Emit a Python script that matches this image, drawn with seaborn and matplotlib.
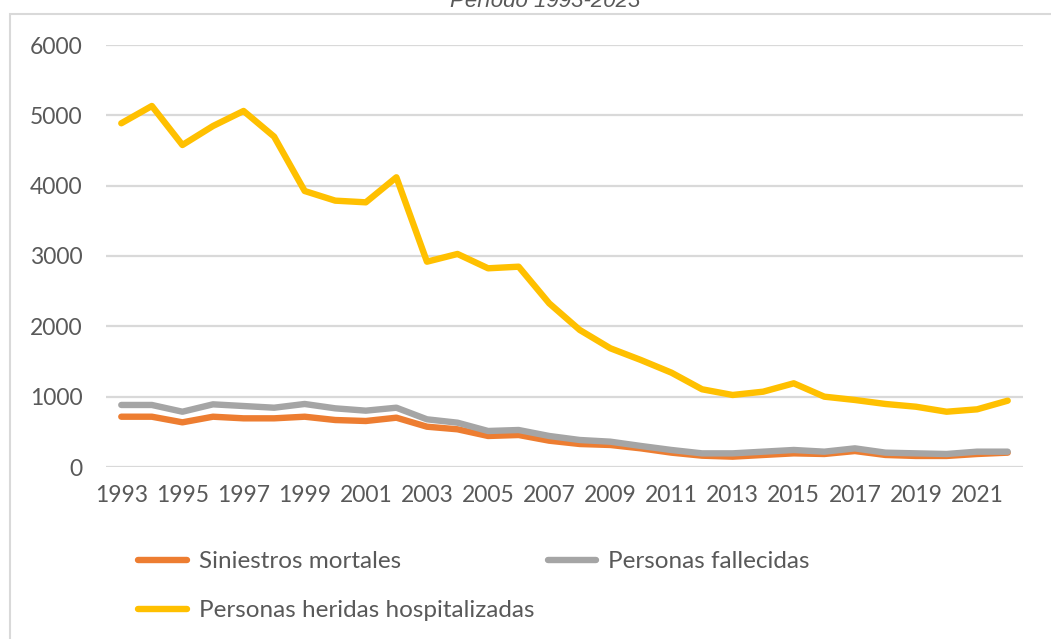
import numpy as np
import pandas as pd
import matplotlib
matplotlib.use("Agg")
import matplotlib.pyplot as plt
import seaborn as sns
from matplotlib.lines import Line2D
from matplotlib.patches import Rectangle

years = list(range(1993, 2023))
siniestros_mortales = [715, 715, 635, 715, 692, 692, 715, 668, 654, 701,
                       573, 536, 441, 455, 374, 327, 313, 265, 204, 161,
                       147, 171, 194, 185, 227, 171, 157, 157, 185, 204]
personas_fallecidas = [882, 882, 786, 891, 867, 843, 896, 834, 801, 843,
                       678, 630, 512, 526, 441, 384, 360, 299, 242, 194,
                       194, 218, 242, 218, 265, 204, 194, 185, 218, 218]
personas_heridas = [4887, 5133, 4578, 4848, 5062, 4697, 3924, 3787, 3763, 4119,
                    2919, 3029, 2825, 2848, 2327, 1948, 1688, 1521, 1341, 1105,
                    1024, 1071, 1190, 1000, 953, 896, 857, 786, 820, 943]
series_names = ["Siniestros mortales", "Personas fallecidas", "Personas heridas hospitalizadas"]
series_colors = ["#ED7D31", "#A5A5A5", "#FFC000"]
title = "Período 1993-2023"
yticks = [0, 1000, 2000, 3000, 4000, 5000, 6000]
xticks = list(range(1993, 2022, 2))

sns.set_theme(style="white")
plt.rcParams['font.family'] = ['Lato', 'DejaVu Sans']

W, H = 1051, 639
fig = plt.figure(figsize=(W / 100, H / 100), dpi=100)
ax = fig.add_axes([106 / W, 1 - 467 / H, (1023 - 106) / W, (467 - 45) / H])

df = pd.DataFrame({
    "year": years * 3,
    "value": siniestros_mortales + personas_fallecidas + personas_heridas,
    "serie": [series_names[0]] * len(years) + [series_names[1]] * len(years) + [series_names[2]] * len(years),
})

for name, color in zip(series_names, series_colors):
    sub = df[df["serie"] == name]
    sns.lineplot(data=sub, x="year", y="value", ax=ax, color=color, linewidth=4.6,
                 legend=False, solid_capstyle="round", solid_joinstyle="round")

ax.set_xlim(1992.5, 2022.5)
ax.set_ylim(0, 6000)
ax.set_yticks(yticks)
ax.set_xticks(xticks)
ax.set_xticklabels([str(x) for x in xticks])
ax.set_yticklabels([str(y) for y in yticks])
ax.set_xlabel("")
ax.set_ylabel("")
ax.grid(axis="y", color="#D9D9D9", linewidth=1.6)
ax.set_axisbelow(True)
for s in ax.spines.values():
    s.set_visible(False)
ax.tick_params(axis="y", length=0, pad=17, labelsize=16.5, labelcolor="#595959")
ax.tick_params(axis="x", length=0, pad=13, labelsize=16.5, labelcolor="#595959")

# frame of chart area
fig.patches.append(Rectangle((10 / W, -0.2), 1.3, 1.2 - 14 / H, transform=fig.transFigure,
                             fill=False, edgecolor="#D9D9D9", linewidth=1.5))

fig.text(545 / W, 1 - 7 / H, title, ha="center", va="baseline", fontsize=16,
         style="italic", color="#595959", family=["Liberation Sans", "DejaVu Sans"])

handles = [Line2D([], [], color=series_colors[0], lw=4.6, solid_capstyle="round"),
           Line2D([], [], color=series_colors[2], lw=4.6, solid_capstyle="round"),
           Line2D([], [], color=series_colors[1], lw=4.6, solid_capstyle="round")]
labels = [series_names[0], series_names[2], series_names[1]]
leg = fig.legend(handles, labels, ncol=2, loc="upper left",
                 bbox_to_anchor=(138 / W, 1 - 551 / H), frameon=False,
                 fontsize=17.5, handlelength=2.0, handletextpad=0.5,
                 columnspacing=0.55, labelspacing=1.17, borderaxespad=0, borderpad=0)
for t in leg.get_texts():
    t.set_color("#595959")

fig.savefig("out.png", dpi=100)
